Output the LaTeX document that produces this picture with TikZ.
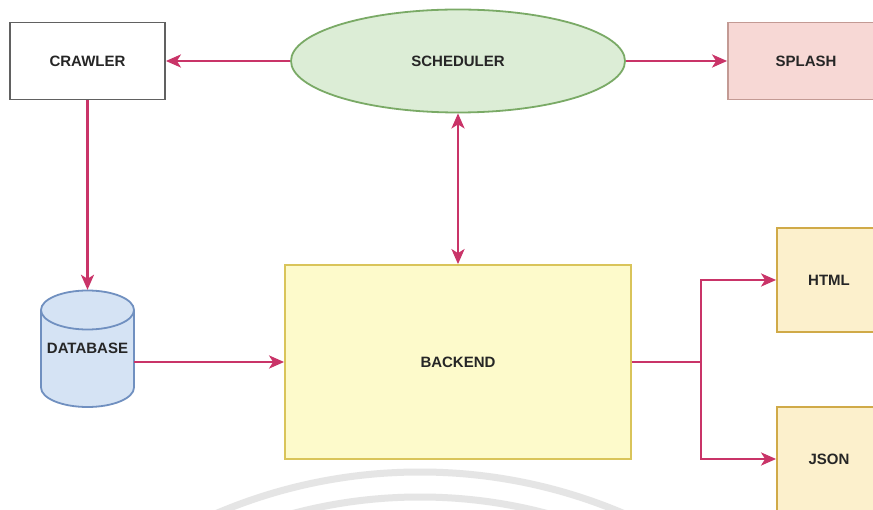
\documentclass[tikz,border=0pt]{standalone}
\usepackage{fontspec}
\setmainfont{Liberation Sans}
\usetikzlibrary{arrows.meta,shapes.geometric}
\definecolor{linkcol}{HTML}{C93468}
\definecolor{txtcol}{HTML}{262626}
\definecolor{schedfill}{HTML}{DCEDD6}
\definecolor{scheddraw}{HTML}{7AAA66}
\definecolor{splashfill}{HTML}{F7D8D5}
\definecolor{splashdraw}{HTML}{C39A94}
\definecolor{backfill}{HTML}{FDFACB}
\definecolor{backdraw}{HTML}{D9C45A}
\definecolor{outfill}{HTML}{FCF0CC}
\definecolor{outdraw}{HTML}{D0AA48}
\definecolor{dbfill}{HTML}{D5E3F4}
\definecolor{dbdraw}{HTML}{7090C0}
\begin{document}
\begin{tikzpicture}[x=1pt,y=-1pt,
  label/.style={font=\bfseries\fontsize{15}{17}\selectfont, text=txtcol},
  box/.style={label, rectangle, line width=1.8pt, inner sep=0pt},
  link/.style={draw=linkcol, line width=2.5pt, -{Stealth[length=15pt,width=13pt,inset=4pt]}},
  linkboth/.style={link, {Stealth[length=15pt,width=13pt,inset=4pt]}-{Stealth[length=15pt,width=13pt,inset=4pt]}}]
  \useasboundingbox (0,0) rectangle (873,510);
  \fill[white] (0,0) rectangle (873,510);

  % faint arcs along the lower edge
  \begin{scope}
    \clip (0,0) rectangle (873,510);
    \draw[black!10, line width=7pt] (420,991) circle[radius=519pt];
    \draw[black!10, line width=7pt] (420,991) circle[radius=494pt];
  \end{scope}

  % nodes
  \node[box, draw=black!62, fill=white, minimum width=155pt, minimum height=77pt]
    (crawler) at (87.5,61) {CRAWLER};
  \node[label, ellipse, draw=scheddraw, fill=schedfill,
    line width=1.8pt, minimum width=334pt, minimum height=103pt, inner sep=0pt]
    (sched) at (458,61) {SCHEDULER};
  \node[box, draw=splashdraw, fill=splashfill, minimum width=156pt, minimum height=77pt]
    (splash) at (806,61) {SPLASH};
  \node[box, draw=backdraw, fill=backfill, minimum width=346pt, minimum height=194pt]
    (backend) at (458,362) {BACKEND};
  \node[box, draw=outdraw, fill=outfill, minimum width=104pt, minimum height=104pt]
    (html) at (829,280) {HTML};
  \node[box, draw=outdraw, fill=outfill, minimum width=104pt, minimum height=104pt]
    (json) at (829,459) {JSON};

  % database cylinder
  \filldraw[fill=dbfill, draw=dbdraw, line width=1.8pt]
    (41,310) -- (41,387.5)
    arc[start angle=180, end angle=360, x radius=46.5pt, y radius=19.5pt]
    -- (134,310)
    arc[start angle=0, end angle=180, x radius=46.5pt, y radius=19.5pt] -- cycle;
  \draw[draw=dbdraw, line width=1.8pt]
    (41,310) arc[start angle=180, end angle=360, x radius=46.5pt, y radius=19.5pt];
  \node[label, rectangle, minimum width=93pt, minimum height=117pt, inner sep=0pt]
    (db) at (87.5,348.5) {DATABASE};

  % connectors
  \draw[link] (sched.west) -- (crawler.east);
  \draw[link] (sched.east) -- (splash.west);
  \draw[linkboth] (sched.south) -- (backend.north);
  \draw[link] (crawler.south) -- (db.north);
  \draw[link] (db.east |- backend.west) -- (backend.west);
  \coordinate (fork) at (701,362);
  \draw[link] (backend.east) -- (fork) |- (html.west);
  \draw[link] (fork) |- (json.west);
\end{tikzpicture}
\end{document}
